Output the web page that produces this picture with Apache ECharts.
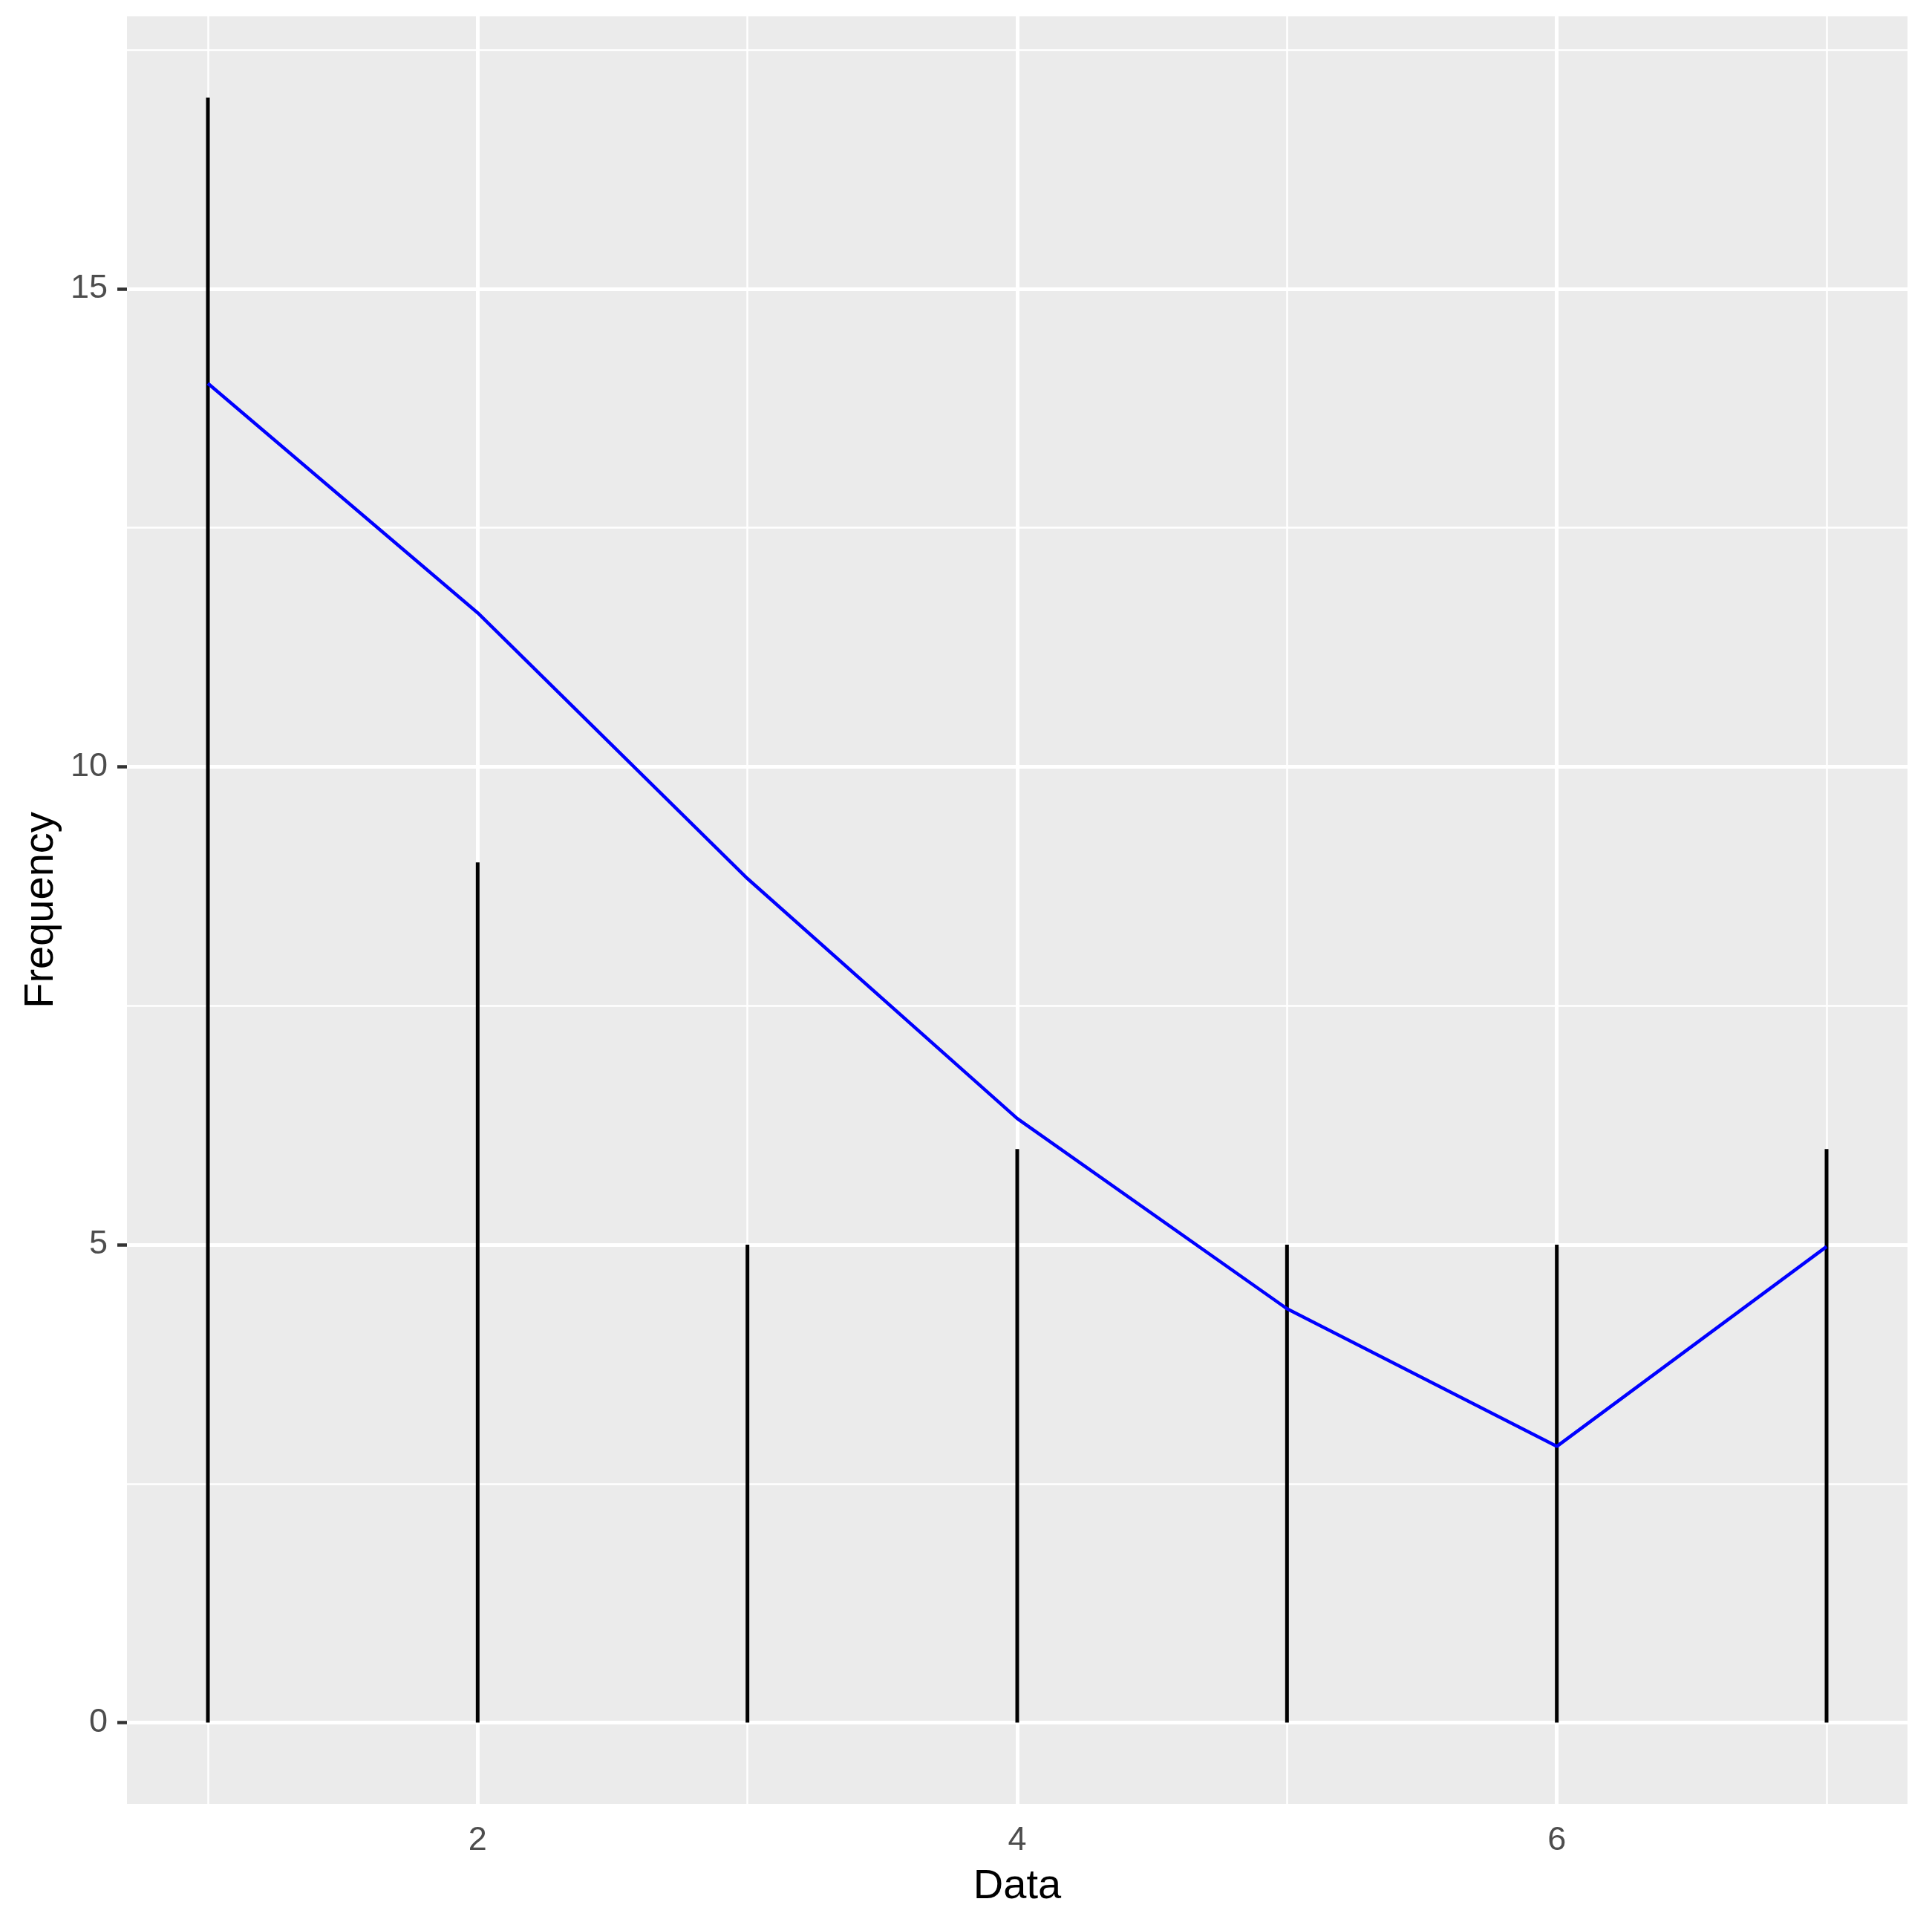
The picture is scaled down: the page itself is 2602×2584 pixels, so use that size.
<!DOCTYPE html>
<html>
<head>
<meta charset="utf-8">
<script src="https://cdn.jsdelivr.net/npm/echarts@6/dist/echarts.min.js"></script>
<style>
html,body{margin:0;padding:0;background:#fff;}
#chart{width:2602px;height:2584px;}
</style>
</head>
<body>
<div id="chart"></div>
<script>
// ---- data ----
const dataX = [1, 2, 3, 4, 5, 6, 7];
const frequency = [17, 9, 5, 6, 5, 5, 6];
const smoothX = [1, 2, 3, 4, 5, 6, 7];
const smoothY = [14.01, 11.61, 8.83, 6.32, 4.33, 2.89, 4.98];
const xTicks = [2, 4, 6];
const xMinorGrid = [1, 3, 5, 7];
const yTicks = [0, 5, 10, 15];
const yMinorGrid = [2.5, 7.5, 12.5, 17.5];

const FONT = 'Liberation Sans, Arial, sans-serif';
const chart = echarts.init(document.getElementById('chart'), null, {renderer: 'canvas'});

const gridLines = []
  .concat(yMinorGrid.map(v => ({yAxis: v, lineStyle: {color: '#ffffff', width: 2.5, type: 'solid'}})))
  .concat(xMinorGrid.map(v => ({xAxis: v, lineStyle: {color: '#ffffff', width: 2.5, type: 'solid'}})))
  .concat(yTicks.map(v => ({yAxis: v, lineStyle: {color: '#ffffff', width: 5, type: 'solid'}})))
  .concat(xTicks.map(v => ({xAxis: v, lineStyle: {color: '#ffffff', width: 5, type: 'solid'}})));

chart.setOption({
  animation: false,
  backgroundColor: '#ffffff',
  grid: {
    left: 171, right: 33, top: 22, bottom: 155,
    show: true, backgroundColor: '#EBEBEB', borderWidth: 0
  },
  xAxis: {
    type: 'value', min: 0.7, max: 7.3,
    name: 'Data', nameLocation: 'middle', nameGap: 84,
    nameTextStyle: {fontFamily: FONT, fontSize: 56, color: '#000000'},
    axisLine: {show: false},
    axisTick: {show: true, length: 13, lineStyle: {color: '#333333', width: 4.5}, customValues: xTicks},
    axisLabel: {show: true, customValues: xTicks, margin: 27, fontFamily: FONT, fontSize: 45, color: '#4D4D4D'},
    splitLine: {show: false},
    minorSplitLine: {show: false}
  },
  yAxis: {
    type: 'value', min: -0.85, max: 17.85,
    name: 'Frequency', nameLocation: 'middle', nameGap: 82, nameRotate: 90,
    nameTextStyle: {fontFamily: FONT, fontSize: 56, color: '#000000'},
    axisLine: {show: false},
    axisTick: {show: true, length: 13, lineStyle: {color: '#333333', width: 4.5}, customValues: yTicks},
    axisLabel: {show: true, customValues: yTicks, margin: 26, fontFamily: FONT, fontSize: 45, color: '#4D4D4D'},
    splitLine: {show: false},
    minorSplitLine: {show: false}
  },
  series: [
    {
      name: 'grid', type: 'line', data: [], z: 1, silent: true,
      markLine: {
        z: 1, zlevel: 0,
        silent: true, symbol: ['none', 'none'], animation: false,
        label: {show: false},
        emphasis: {disabled: true},
        data: gridLines
      }
    },
    {
      name: 'Frequency', type: 'bar', z: 3, silent: true,
      barWidth: 5,
      itemStyle: {color: '#000000'},
      data: dataX.map((x, i) => [x, frequency[i]])
    },
    {
      name: 'Smooth', type: 'line', z: 4, silent: true,
      symbol: 'none', smooth: false,
      lineStyle: {color: '#0000FF', width: 4.5},
      data: smoothX.map((x, i) => [x, smoothY[i]])
    }
  ]
});
</script>
</body>
</html>
